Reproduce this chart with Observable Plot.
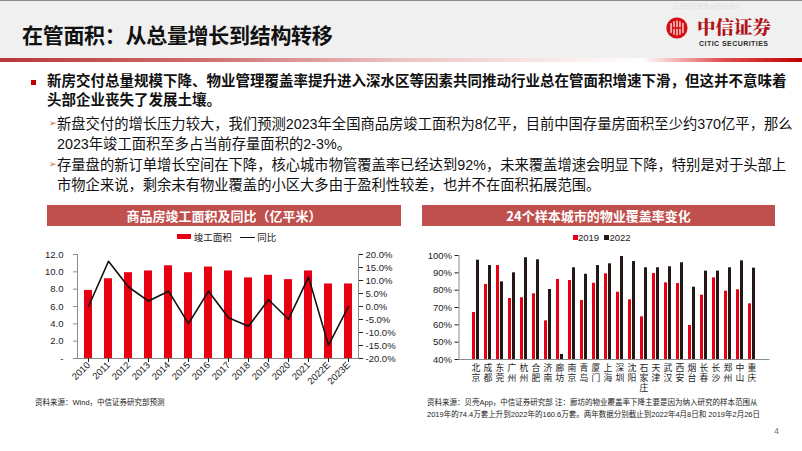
<!DOCTYPE html>
<html><head><meta charset="utf-8">
<script src="https://cdn.jsdelivr.net/npm/d3@7"></script>
<script src="https://cdn.jsdelivr.net/npm/@observablehq/plot@0.6"></script>
<style>
body{margin:0;width:802px;height:451px;overflow:hidden;background:#fff;position:relative;font-family:"Liberation Sans","Noto Sans CJK SC",sans-serif;color:#1a1a1a}
.abs{position:absolute;white-space:nowrap}
#hdr{left:0;top:0;width:802px;height:58px;background:#f0f0f0;border-top:1px solid #8a8a8a;box-sizing:border-box}
#hline{left:0;top:58px;width:802px;height:4px;background:linear-gradient(90deg,#b8373a 0%,#cf6d6d 25%,#ecc3c3 50%,#fbefef 72%,#ffffff 80%,#e05050 90%,#c00000 100%)}
#title{left:22px;top:19px;font-family:"Noto Sans CJK SC";font-weight:700;font-size:21px;letter-spacing:-0.3px;color:#111}
.body{font-family:"Liberation Sans","Noto Sans CJK SC";font-size:14.3px;line-height:19.5px;color:#111}
.lead{font-size:14.5px;font-weight:700;line-height:19px}
.box{height:21px;background:#c0504d;color:#fff;font-family:"Noto Sans CJK SC";font-weight:700;font-size:13px;line-height:21px;text-align:center}
.leg{font-size:9.5px;color:#222;line-height:12px}
.src{font-family:"Liberation Sans","Noto Sans CJK SC";font-size:7.5px;line-height:12px;color:#222}
</style></head><body>
<div id="hdr" class="abs"></div>
<div id="hline" class="abs"></div>
<div id="title" class="abs">在管面积：从总量增长到结构转移</div>
<div class="abs" style="left:673px;top:2px;font-size:6px;line-height:8px;color:#e2e2e2;font-family:'Noto Sans CJK SC'">证券研究报告 请务必阅读</div>
<svg class="abs" style="left:666px;top:17px" width="22" height="22" viewBox="0 0 26 26">
  <circle cx="13" cy="13" r="12.5" fill="#d40f14"/>
  <path d="M6 7 v12 M9.5 5 v16 M13 4 v18 M16.5 5 v16 M20 7 v12" stroke="#fff" stroke-width="1.4"/>
  <path d="M8 13 h10" stroke="#d40f14" stroke-width="2"/>
</svg>
<div class="abs" style="left:697px;top:17px;font-family:'Noto Serif CJK SC','Noto Sans CJK SC';font-weight:900;font-size:18.5px;line-height:19px;color:#b01319">中信证券</div>
<div class="abs" style="left:699px;top:40px;font-family:'Liberation Sans Narrow','Liberation Sans';font-weight:700;font-size:7px;line-height:7px;letter-spacing:0.45px;color:#2a2a2a">CITIC SECURITIES</div>

<div class="abs" style="left:31px;top:80px;width:5px;height:5px;background:#c00000"></div>
<div class="abs body lead" style="left:47px;top:72px">新房交付总量规模下降、物业管理覆盖率提升进入深水区等因素共同推动行业总在管面积增速下滑，但这并不意味着<br>头部企业丧失了发展土壤。</div>
<div class="abs" style="left:49px;top:118px;font-size:9px;color:#d0603a;font-family:'DejaVu Sans'">➢</div>
<div class="abs body" style="left:57px;top:115px">新盘交付的增长压力较大，我们预测2023年全国商品房竣工面积为8亿平，目前中国存量房面积至少约370亿平，那么<br>2023年竣工面积至多占当前存量面积的2-3%。</div>
<div class="abs" style="left:49px;top:159px;font-size:9px;color:#d0603a;font-family:'DejaVu Sans'">➢</div>
<div class="abs body" style="left:57px;top:156px">存量盘的新订单增长空间在下降，核心城市物管覆盖率已经达到92%，未来覆盖增速会明显下降，特别是对于头部上<br>市物企来说，剩余未有物业覆盖的小区大多由于盈利性较差，也并不在面积拓展范围。</div>

<div class="abs box" style="left:47px;top:205px;width:354px">商品房竣工面积及同比（亿平米）</div>
<div class="abs box" style="left:422px;top:205px;width:353px">24个样本城市的物业覆盖率变化</div>

<div class="abs leg" style="left:177px;top:232px"><span style="display:inline-block;width:14px;height:5px;background:#e60012;vertical-align:2px"></span> 竣工面积 &nbsp;&nbsp;<span style="display:inline-block;width:15px;height:1.5px;background:#111;vertical-align:3px"></span> 同比</div>
<div class="abs leg" style="left:573px;top:232px"><span style="display:inline-block;width:5px;height:5px;background:#e60012;vertical-align:1px"></span>2019 &nbsp;<span style="display:inline-block;width:5px;height:5px;background:#221815;vertical-align:1px"></span>2022</div>

<div id="c1" class="abs" style="left:20px;top:248px"></div>
<div id="c2" class="abs" style="left:405px;top:248px"></div>

<div class="abs src" style="left:35px;top:397px">资料来源：Wind，中信证券研究部预测</div>
<div class="abs src" style="left:427px;top:397px">资料来源：贝壳App，中信证券研究部 注：廊坊的物业覆盖率下降主要是因为纳入研究的样本范围从<br>2019年的74.4万套上升到2022年的160.6万套。两年数据分别截止到2022年4月8日和 2019年2月26日</div>
<div class="abs" style="left:774px;top:426px;font-size:9px;color:#777">4</div>

<script>
// ---- Left chart data ----
const years = ["2010","2011","2012","2013","2014","2015","2016","2017","2018","2019","2020","2021","2022E","2023E"];
const completionArea = [7.85, 9.2, 9.9, 10.1, 10.7, 9.9, 10.55, 10.1, 9.3, 9.6, 9.1, 10.1, 8.6, 8.6];
const yoyPct = [0.0, 17.4, 7.5, 2.1, 5.9, -6.6, 5.9, -4.3, -7.6, 2.6, -4.9, 11.3, -14.9, 0.0];
const leftTicks = [0, 2, 4, 6, 8, 10, 12];
const rightTicks = [-20, -15, -10, -5, 0, 5, 10, 15, 20];

// ---- Right chart data ----
const cities = ["北京","成都","东莞","广州","杭州","合肥","济南","廊坊","南京","青岛","厦门","上海","深圳","沈阳","石家庄","天津","武汉","西安","烟台","长春","长沙","郑州","中山","重庆"];
const coverage2019 = [67.1, 83.3, 94.2, 75.2, 75.6, 77.9, 62.3, 86.2, 85.6, 74.0, 84.0, 89.4, 78.8, 74.4, 64.6, 89.6, 84.2, 83.8, 59.6, 77.1, 87.1, 79.4, 80.2, 72.1];
const coverage2022 = [97.3, 94.2, 84.8, 90.0, 98.7, 97.5, 80.4, 42.9, 92.9, 89.2, 94.2, 95.2, 99.4, 96.5, 92.9, 92.9, 93.5, 95.8, 81.7, 91.0, 91.0, 92.9, 96.9, 92.7];
const pctTicks = [40, 50, 60, 70, 80, 90, 100];

const RED = "#e60012", BLACK = "#221815", AXIS = "#8c8c8c";
const FONT = "'Liberation Sans','Noto Sans CJK SC',sans-serif";

// Left: dual axis, yoy mapped onto the area scale
const yoyToLeft = d3.scaleLinear([-20, 20], [0, 12]);
const leftData = years.map((y, i) => ({year: y, area: completionArea[i], yoy: yoyPct[i]}));

const c1 = Plot.plot({
  width: 385, height: 160,
  marginLeft: 57, marginRight: 47, marginTop: 6, marginBottom: 50,
  style: {fontFamily: FONT, fontSize: "9.5px", color: "#222", background: "transparent"},
  x: {domain: years, paddingInner: 0.6, paddingOuter: 0.3},
  y: {domain: [0, 12]},
  marks: [
    Plot.barY(leftData, {x: "year", y: "area", fill: RED}),
    Plot.lineY(leftData, {x: "year", y: d => yoyToLeft(d.yoy), stroke: "#111", strokeWidth: 1.6}),
    Plot.frame({anchor: "left", stroke: AXIS}),
    Plot.frame({anchor: "right", stroke: AXIS}),
    Plot.ruleY([0], {stroke: AXIS}),
    Plot.axisY({ticks: leftTicks, tickFormat: d => d === 0 ? "-" : d.toFixed(1), label: null, tickSize: 4, tickPadding: 10, stroke: AXIS}),
    Plot.axisY(rightTicks.map(yoyToLeft), {anchor: "right", tickFormat: d => yoyToLeft.invert(d).toFixed(1) + "%", label: null, tickSize: 4, tickPadding: 3}),
    Plot.axisX({tickRotate: -45, label: null, tickSize: 4, tickPadding: 1, fontSize: 9.5})
  ]
});
document.getElementById("c1").appendChild(c1);

// Right: grouped bars; city names written vertically
const rightData = cities.flatMap((c, i) => [
  {city: c, year: "2019", v: coverage2019[i]},
  {city: c, year: "2022", v: coverage2022[i]}
]);
const c2 = Plot.plot({
  width: 385, height: 160,
  marginLeft: 53.5, marginRight: 20.5, marginTop: 7, marginBottom: 49,
  style: {fontFamily: FONT, fontSize: "9.5px", color: "#222", background: "transparent"},
  x: {domain: cities, paddingInner: 0.38, paddingOuter: 0.19, axis: null},
  y: {domain: [40, 100]},
  marks: [
    Plot.barY(rightData.filter(d => d.year === "2019"), {x: "city", y1: 40, y2: "v", fill: RED, insetRight: 4}),
    Plot.barY(rightData.filter(d => d.year === "2022"), {x: "city", y1: 40, y2: "v", fill: BLACK, insetLeft: 4}),
    Plot.frame({anchor: "left", stroke: AXIS}),
    Plot.ruleY([40], {stroke: AXIS}),
    Plot.axisY({ticks: pctTicks, tickFormat: d => d + "%", label: null, tickSize: 4, tickPadding: 3}),
    Plot.text(cities, {x: d => d, frameAnchor: "bottom", text: d => d, dy: 4, textAnchor: "start",
      fontSize: 8.8, fontFamily: "'Noto Sans CJK SC'", fill: "#222", className: "citylab"})
  ]
});
c2.querySelectorAll(".citylab text, g.citylab text, text.citylab").forEach(t => {
  t.removeAttribute("dy");
  t.style.writingMode = "vertical-rl";
  t.style.textOrientation = "upright";
  t.style.letterSpacing = "1px";
});
document.getElementById("c2").appendChild(c2);
</script>
</body></html>
